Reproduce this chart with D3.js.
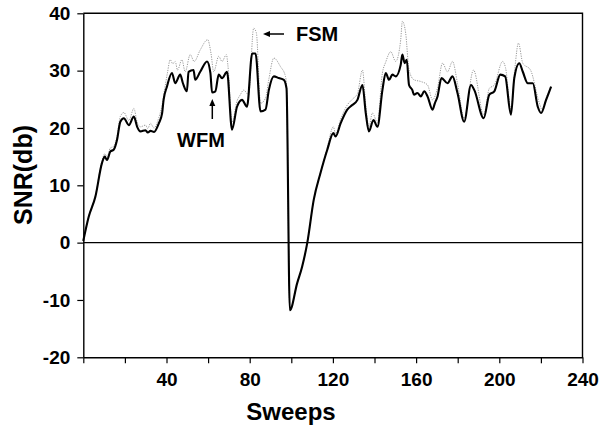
<!DOCTYPE html>
<html>
<head>
<meta charset="utf-8">
<script src="https://cdn.jsdelivr.net/npm/d3@7"></script>
<style>
  html, body { margin: 0; padding: 0; background: #fff; }
  svg { display: block; }
  text { font-family: "Liberation Sans", Arial, Helvetica, sans-serif; font-weight: bold; fill: #000; }
</style>
</head>
<body>
<svg id="chart" width="601" height="432"></svg>
<script>
// ---- data ----
const wfmSweeps = [0,2.6,5.8,9,10.3,11.4,13,14.6,16.2,17.8,19.5,21.9,24.3,25.9,27.5,29.9,31,32.3,34,36.3,37.9,38.6,40.2,42.6,44.2,46.6,47.9,49.8,50.6,53,53.8,56.2,59.5,61.1,61.9,63.5,65.1,66.7,69.1,71.5,73.9,76.3,78.7,81.2,82.8,85.2,87.6,89.2,91.6,94,96.4,97.7,99.3,102.8,105.2,107.7,110.8,114,117.3,120.2,121.3,123.7,126.9,129.3,131.8,134.2,135.8,137.3,139.5,141.4,143.8,145.4,147,148.6,150.2,152.6,153.4,154.5,155.5,156.6,158.2,159,160.6,162.3,163.9,165.5,167.9,169,170.3,172.2,175.1,177.5,179.9,183.1,186.4,188,192.5,195.2,197.6,200.5,202.8,205.6,207.2,209.6,211.3,213.7,216.1,218.5,220.1,222.5,224.9];
const wfmValues = [0.3,4.5,8,13.9,15,14.4,15.9,16.2,17.9,21.1,21.7,20.5,22,20.2,19.4,19.6,19.2,19.5,19.3,20.8,22.6,24.9,27.2,29.6,27.8,29.3,27.8,26.4,29.8,30.1,28.4,29.8,31.6,29.6,26.2,26.4,29.3,28.7,29.8,19.7,23.7,24.9,23.7,33,33,22.9,23.2,26.6,29,28.7,28.4,26.9,-11.8,-7.1,-4.2,0,7.5,12.1,16.2,19.1,18.5,20.8,23.2,24,24.9,27.5,22.6,19.4,21.4,20.2,26.6,29.6,28.4,29.3,29,31,32.8,31.3,31.9,27.5,26.6,25.8,26.1,25.5,26.4,25.5,23.2,24.3,25.5,28.7,27.8,29,26.1,21.1,27.5,26.6,21.7,25.8,26.4,29.3,29,22.3,28.7,31.3,29.8,27.8,27.8,23.7,22.6,24.9,27.2];

const fsmSweeps = [0,2.6,5.8,9,10.3,11.4,13,14.6,16.2,17.8,19.5,21.9,24.3,25.9,27.5,29.9,31,32.3,34,36.3,37.9,39,40.4,41.8,43,44.2,45.3,47.4,49,51.4,53.3,56.2,59.8,61.4,62.7,65.1,66.7,68.8,69.5,71.5,73.9,75.5,77.1,79.5,81.9,83.2,85.2,87.6,89.2,91.6,94.8,97.2,97.7,99.3,102.8,105.2,107.7,110.8,114,117.3,120.2,121.3,123.7,126.9,129.3,131.8,134.2,135.8,137.3,139,141.4,143.8,145.4,147.8,150.2,152.6,153.4,155,156.6,159,162.3,165.5,167.9,170.3,172.7,175.1,177.5,179.9,183.1,187.6,192.5,195.2,197.6,201.6,203,205.6,207.5,209.2,211.3,215,219.3,220.5,222.5,224.9];
const fsmValues = [0.3,4.6,8.2,14.3,15.5,15,16.5,16.8,18.5,22,22.7,21.3,23.4,21,20.2,20.5,19.9,20.8,20,21.8,24,26.5,29.5,31.9,31.2,31.6,30.1,31.9,29.8,32.8,31.6,33.6,35.4,33,29.8,32.5,31.6,32.8,31,21,24.7,25.8,26.6,25.8,37.4,36.6,24.3,25.2,28.5,32.2,30.7,29,27.5,-11.8,-7.1,-4.2,0,7.5,12.2,16.6,20.2,19,21.5,24,25,26,30.1,24,20.2,22.6,21,29.6,31.5,33.3,31.6,35.4,38.6,36.5,30.1,28.4,28.1,27.5,24.9,27,31.3,29.8,31.6,27.8,21.7,30.1,22.3,26.9,27.5,31.6,30.5,23.2,30.5,34.8,31.3,30.1,24.3,23.2,25.2,27.2];

const xTicks = [0,20,40,60,80,100,120,140,160,180,200,220,240];
const xTickLabels = ["","","40","","80","","120","","160","","200","","240"];
const yTicks = [-20,-10,0,10,20,30,40];
const yTickLabels = ["-20","-10","0","10","20","30","40"];
const xTitle = "Sweeps";
const yTitle = "SNR(db)";

// ---- layout ----
const svg = d3.select("#chart");
const pL = 83.3, pR = 582.5, pT = 13.3, pB = 357.3;
const x = d3.scaleLinear().domain([0, 240]).range([pL, pR]);
const y = d3.scaleLinear().domain([-20, 40]).range([pB, pT]);

// frame (top and right)
svg.append("path")
  .attr("d", `M${pL},${pT}H${pR}V${pB}`)
  .attr("fill", "none").attr("stroke", "#000").attr("stroke-width", 1.4);

// zero line
svg.append("line")
  .attr("x1", x(0)).attr("x2", x(240)).attr("y1", y(0)).attr("y2", y(0))
  .attr("stroke", "#000").attr("stroke-width", 1.2);

// axes
const xAxis = d3.axisBottom(x).tickValues(xTicks)
  .tickFormat((d, i) => xTickLabels[i]).tickSize(6).tickPadding(9).tickSizeOuter(0);
const gx = svg.append("g").attr("transform", `translate(0,${pB})`).call(xAxis);
const yAxis = d3.axisLeft(y).tickValues(yTicks)
  .tickFormat((d, i) => yTickLabels[i]).tickSize(6).tickPadding(7).tickSizeOuter(0);
const gy = svg.append("g").attr("transform", `translate(${pL},0)`).call(yAxis);
[gx, gy].forEach(g => {
  g.select(".domain").attr("stroke", "#000").attr("stroke-width", 1.4);
  g.selectAll(".tick line").attr("stroke", "#000").attr("stroke-width", 1.2);
  g.selectAll(".tick text")
    .style("font-family", '"Liberation Sans", Arial, sans-serif')
    .style("font-weight", "bold").style("font-size", "19px").attr("fill", "#000");
});

// series
const line = d3.line().curve(d3.curveMonotoneX).x(d => x(d[0])).y(d => y(d[1]));
const fsmData = fsmSweeps.map((s, i) => [s, fsmValues[i]]);
const wfmData = wfmSweeps.map((s, i) => [s, wfmValues[i]]);

svg.append("path").datum(fsmData).attr("d", line)
  .attr("fill", "none").attr("stroke", "#999").attr("stroke-width", 1)
  .attr("stroke-dasharray", "1.2,1.2");
svg.append("path").datum(wfmData).attr("d", line)
  .attr("fill", "none").attr("stroke", "#000").attr("stroke-width", 2.1)
  .attr("stroke-linejoin", "round");

// annotations
svg.append("text").attr("x", 296).attr("y", 41).style("font-size", "20px").text("FSM");
svg.append("line").attr("x1", 284).attr("x2", 268).attr("y1", 34).attr("y2", 34)
  .attr("stroke", "#000").attr("stroke-width", 1.5);
svg.append("path").attr("d", "M263,34L270,31L270,37Z").attr("fill", "#000");

svg.append("text").attr("x", 201).attr("y", 147).attr("text-anchor", "middle")
  .style("font-size", "20px").text("WFM");
svg.append("line").attr("x1", 212.3).attr("x2", 212.3).attr("y1", 119).attr("y2", 104)
  .attr("stroke", "#000").attr("stroke-width", 1.5);
svg.append("path").attr("d", "M212.3,99L209.3,106L215.3,106Z").attr("fill", "#000");

// titles
svg.append("text").attr("x", 291).attr("y", 420).attr("text-anchor", "middle")
  .style("font-size", "24px").text(xTitle);
svg.append("text").attr("transform", "translate(32,175) rotate(-90)")
  .attr("text-anchor", "middle").style("font-size", "25px").text(yTitle);
</script>
</body>
</html>
